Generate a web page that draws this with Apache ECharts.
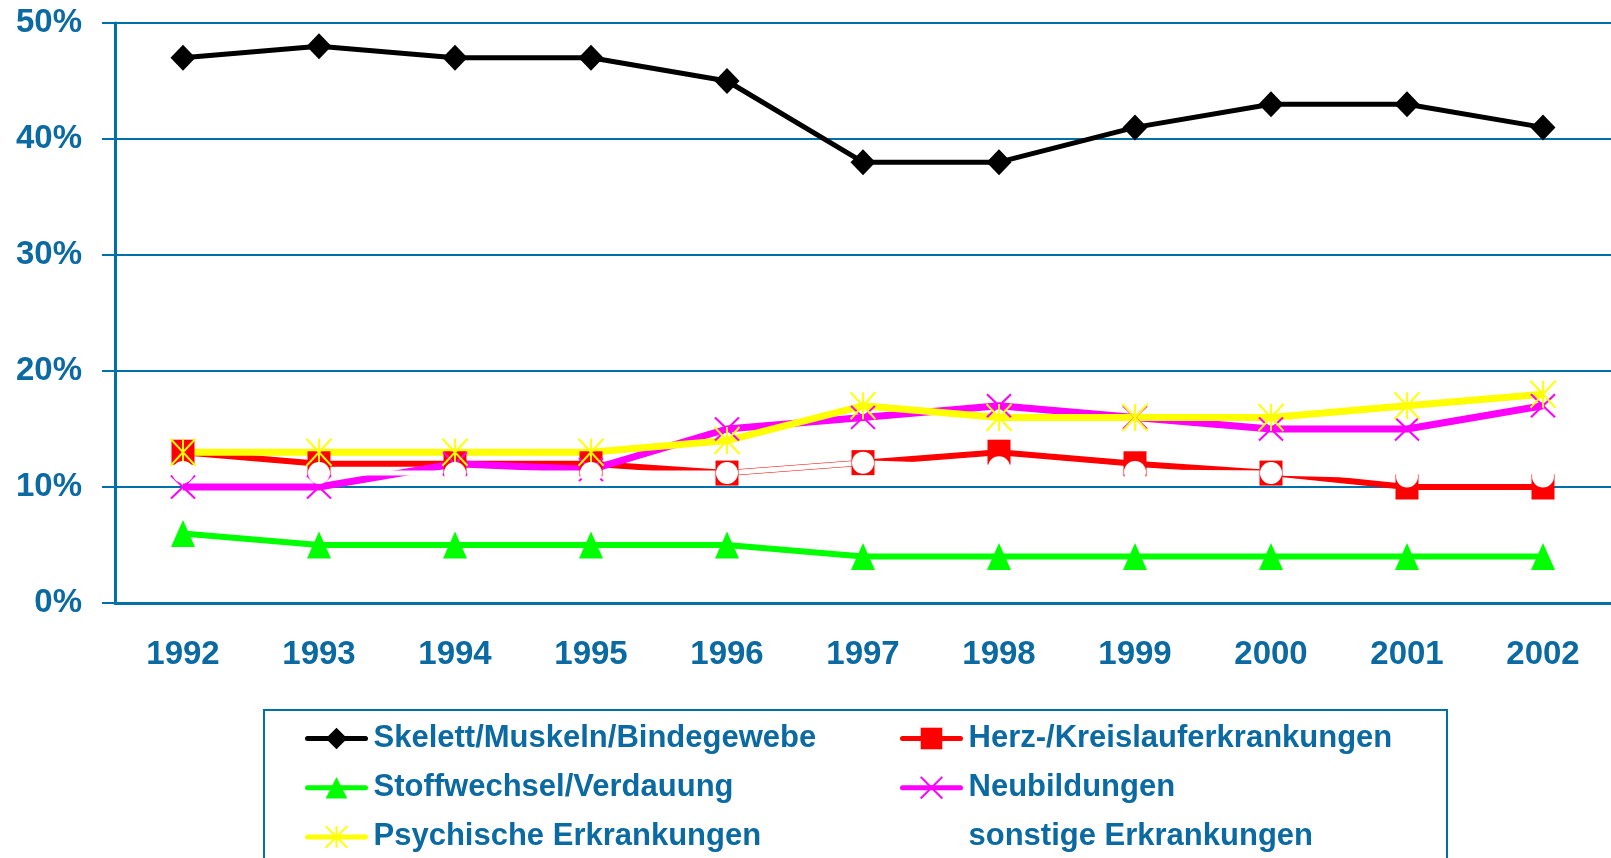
<!DOCTYPE html>
<html lang="de">

<head>
    <meta charset="UTF-8">
    <title>Erkrankungen 1992-2002</title>
    <script src="https://cdn.jsdelivr.net/npm/echarts@6/dist/echarts.min.js"></script>
    <style>
        html, body { margin: 0; padding: 0; background: #fff; }
    </style>
</head>

<body>
    <div id="main" style="width:1611px; height:858px;"></div>
    <script type="text/javascript">
        var years = ['1992', '1993', '1994', '1995', '1996', '1997', '1998', '1999', '2000', '2001', '2002'];

        var skelett = [47, 48, 47, 47, 45, 38, 38, 41, 43, 43, 41];
        var herz = [13, 12, 12, 12, 11.2, 12.1, 13, 12, 11.2, 10, 10];
        var stoffwechsel = [6, 5, 5, 5, 5, 4, 4, 4, 4, 4, 4];
        var neubildungen = [10, 10, 12, 11.5, 15, 16, 17, 16, 15, 15, 17];
        var psychische = [13, 13, 13, 13, 14, 17, 16, 16, 16, 17, 18];
        var sonstige = [11.3, 11.2, 11.2, 11.2, 11.2, 12.1, 11.7, 11.3, 11.2, 10.9, 10.9];

        var yTicks = { min: 0, max: 50, interval: 10 };

        var axisBlue = '#0070a8';
        var textBlue = '#0b6aa2';
        var font = "'Liberation Sans', Arial, sans-serif";

        var myChart = echarts.init(document.getElementById('main'));

        var legendText = {
            color: textBlue,
            fontSize: 31,
            fontWeight: 'bold',
            fontFamily: font,
            padding: [0, 0, 0, 3]
        };

        var option = {
            backgroundColor: '#fff',
            animation: false,
            grid: {
                left: 115,
                right: -5,
                top: 23,
                bottom: 255
            },
            legend: [
                {
                    orient: 'vertical',
                    left: 305,
                    top: 723,
                    padding: 0,
                    itemWidth: 58,
                    itemHeight: 27,
                    itemGap: 18.2,
                    lineStyle: { width: 5, cap: 'round' },
                    textStyle: legendText,
                    data: ['Skelett/Muskeln/Bindegewebe', 'Stoffwechsel/Verdauung', 'Psychische Erkrankungen']
                },
                {
                    orient: 'vertical',
                    left: 900,
                    top: 723,
                    padding: 0,
                    itemWidth: 58,
                    itemHeight: 27,
                    itemGap: 18.2,
                    lineStyle: { width: 5, cap: 'round' },
                    textStyle: legendText,
                    data: ['Herz-/Kreislauferkrankungen', 'Neubildungen', 'sonstige Erkrankungen']
                }
            ],
            graphic: [
                {
                    type: 'rect',
                    shape: { x: 264, y: 710, width: 1183, height: 160 },
                    style: { fill: 'none', stroke: axisBlue, lineWidth: 2 },
                    silent: true
                }
            ],
            xAxis: {
                type: 'category',
                data: years,
                boundaryGap: true,
                axisLine: { lineStyle: { color: axisBlue, width: 3 } },
                axisTick: { length: 15, lineStyle: { color: axisBlue, width: 2 } },
                axisLabel: {
                    color: textBlue,
                    fontSize: 33,
                    fontWeight: 'bold',
                    fontFamily: font,
                    margin: 35
                },
                splitLine: { show: false }
            },
            yAxis: {
                type: 'value',
                min: yTicks.min,
                max: yTicks.max,
                interval: yTicks.interval,
                axisLine: { show: true, lineStyle: { color: axisBlue, width: 3 } },
                axisTick: { show: true, length: 13, lineStyle: { color: axisBlue, width: 2 } },
                axisLabel: {
                    color: textBlue,
                    fontSize: 33,
                    fontWeight: 'bold',
                    fontFamily: font,
                    margin: 33,
                    formatter: '{value}%'
                },
                splitLine: { show: true, lineStyle: { color: axisBlue, width: 2 } }
            },
            series: [
                {
                    name: 'Skelett/Muskeln/Bindegewebe',
                    type: 'line',
                    data: skelett,
                    symbol: 'diamond',
                    symbolSize: [25, 26],
                    itemStyle: { color: '#000' },
                    lineStyle: { color: '#000', width: 5 }
                },
                {
                    name: 'Herz-/Kreislauferkrankungen',
                    type: 'line',
                    data: herz,
                    symbol: 'rect',
                    symbolSize: [23, 25],
                    itemStyle: { color: '#ff0000' },
                    lineStyle: { color: '#ff0000', width: 6 }
                },
                {
                    name: 'Stoffwechsel/Verdauung',
                    type: 'line',
                    data: stoffwechsel,
                    symbol: 'triangle',
                    symbolSize: [24, 27],
                    itemStyle: { color: '#00ff00' },
                    lineStyle: { color: '#00ff00', width: 6 }
                },
                {
                    name: 'Neubildungen',
                    type: 'line',
                    data: neubildungen,
                    symbol: 'path://M0,0L24,23M24,0L0,23',
                    symbolSize: [24, 23],
                    itemStyle: { color: '#ff00ff', borderColor: '#ff00ff', borderWidth: 2 },
                    lineStyle: { color: '#ff00ff', width: 7 }
                },
                {
                    name: 'Psychische Erkrankungen',
                    type: 'line',
                    data: psychische,
                    symbol: 'path://M0,0L25,27M25,0L0,27M12.5,0L12.5,27',
                    symbolSize: [25, 27],
                    itemStyle: { color: '#ffff00', borderColor: '#ffff00', borderWidth: 2 },
                    lineStyle: { color: '#ffff00', width: 7 }
                },
                {
                    name: 'sonstige Erkrankungen',
                    type: 'line',
                    data: sonstige,
                    symbol: 'circle',
                    symbolSize: 22,
                    itemStyle: { color: '#fff' },
                    lineStyle: { color: '#fff', width: 5 }
                }
            ]
        };

        myChart.setOption(option);
    </script>

</body>

</html>
